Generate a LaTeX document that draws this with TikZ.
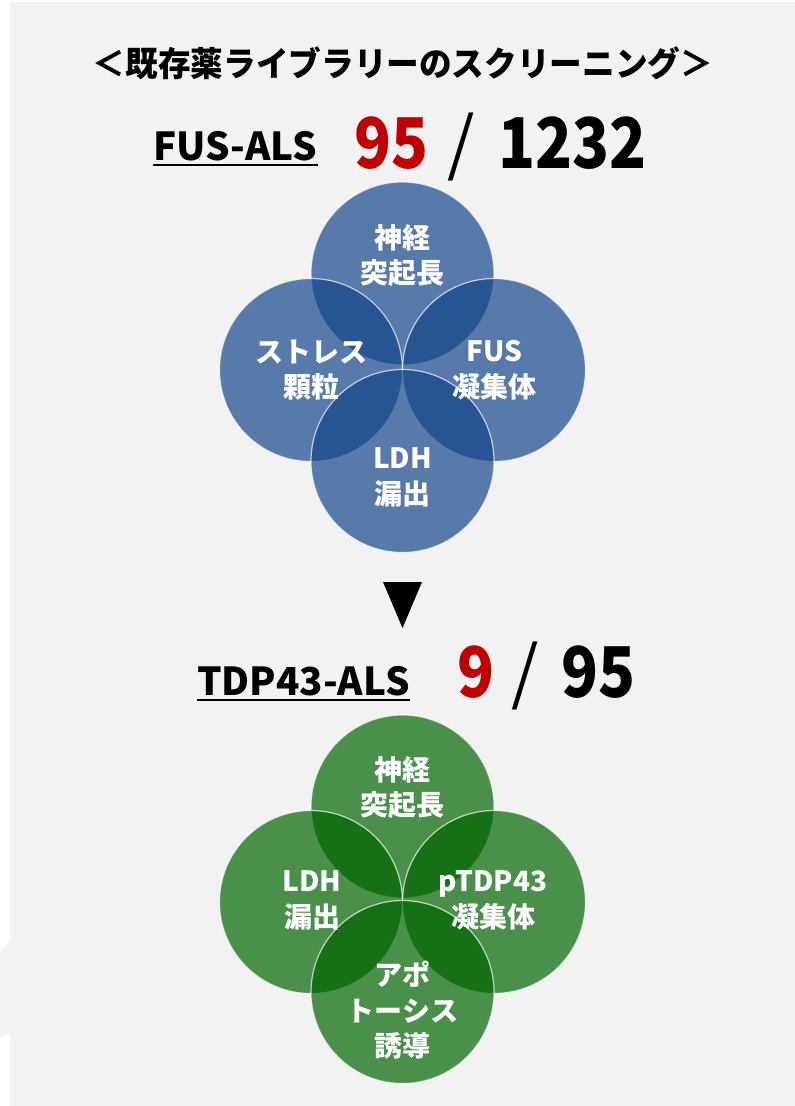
\documentclass[tikz,border=0pt]{standalone}
\usepackage{fontspec}
\setmainfont{Noto Sans CJK JP}
\usetikzlibrary{positioning}
\definecolor{bggray}{RGB}{242,242,242}
\definecolor{venblue}{RGB}{18,69,138}
\definecolor{vengreen}{RGB}{0,100,0}
\definecolor{numred}{RGB}{192,0,0}
\newcommand{\narrow}[1]{\scalebox{0.87}[1]{#1}}
\tikzset{
  BlueCircle/.style = { circle, minimum size = 183pt, inner sep = 0pt,
                        fill = venblue, draw = white, line width = 1.2pt,
                        opacity = 0.69 },
  GreenCircle/.style = { BlueCircle, fill = vengreen },
  InnerText/.style = { align = center, text = white, inner sep = 0pt,
                       font = \fontsize{28}{35.5}\selectfont\bfseries },
  TitleStyle/.style = { inner sep = 0pt,
                        font = \fontsize{34}{34}\selectfont\bfseries },
  HeadStyle/.style = { inner sep = 0pt, anchor = base west,
                       font = \fontsize{38.5}{38.5}\selectfont\bfseries },
  NumStyle/.style = { inner sep = 0pt, anchor = base west,
                      font = \fontsize{70}{70}\selectfont\bfseries },
  SlashStyle/.style = { NumStyle, font = \fontsize{70}{70}\selectfont\mdseries },
  UnderStyle/.style = { line width = 2.5pt } }

\begin{document}
\begin{tikzpicture}[x=1pt,y=-1pt]
  \useasboundingbox (0,0) rectangle (795,1106);
  \fill[bggray] (10,2) rectangle (795,1106);
  \fill[bggray] (10,940) -- (0,953) -- (0,1037) -- (10,1033) -- cycle;
  % heading
  \node[TitleStyle](T) at (403,63) {\scalebox{0.96}[1]{＜既存薬ライブラリーのスクリーニング＞}};
  \node[HeadStyle](F) at (153,160) {FUS-ALS};
  \node[NumStyle, text = numred](F1) at (354,168) {\narrow{95}};
  \node[SlashStyle](F2) at (447,168) {/};
  \node[NumStyle](F3) at (498,168) {\narrow{1232}};
  \draw[UnderStyle] ([yshift=-5pt]F.base west) -- ([yshift=-5pt]F.base east);
  % FUS circles
  \node[BlueCircle](BN) at (402.5,273.5) {};
  \node[BlueCircle](BW) at (311,370) {};
  \node[BlueCircle](BE) at (494,370) {};
  \node[BlueCircle](BS) at (402.5,461) {};
  \node[InnerText] at (402.5,255.5) {神経\\突起長};
  \node[InnerText] at (311,370) {ストレス\\顆粒};
  \node[InnerText] at (494,370) {FUS\\凝集体};
  \node[InnerText] at (402.5,477.5) {LDH\\漏出};
  % arrow down
  \fill (383,582) -- (422,582) -- (402.5,628) -- cycle;
  \node[HeadStyle](D) at (197,695) {TDP43-ALS};
  \node[NumStyle, text = numred](D1) at (457,697) {\narrow{9}};
  \node[SlashStyle](D2) at (511,697) {/};
  \node[NumStyle](D3) at (561,697) {\narrow{95}};
  \draw[UnderStyle] ([yshift=-5pt]D.base west) -- ([yshift=-5pt]D.base east);
  % TDP43 circles
  \node[GreenCircle](GN) at (402.5,806.5) {};
  \node[GreenCircle](GW) at (311,902) {};
  \node[GreenCircle](GE) at (494,902) {};
  \node[GreenCircle](GS) at (402.5,992) {};
  \node[InnerText] at (402.5,787.5) {神経\\突起長};
  \node[InnerText] at (312,900.5) {LDH\\漏出};
  \node[InnerText] at (493,900.5) {pTDP43\\凝集体};
  \node[InnerText] at (402.5,1010.5) {アポ\\トーシス\\誘導};
\end{tikzpicture}
\end{document}
